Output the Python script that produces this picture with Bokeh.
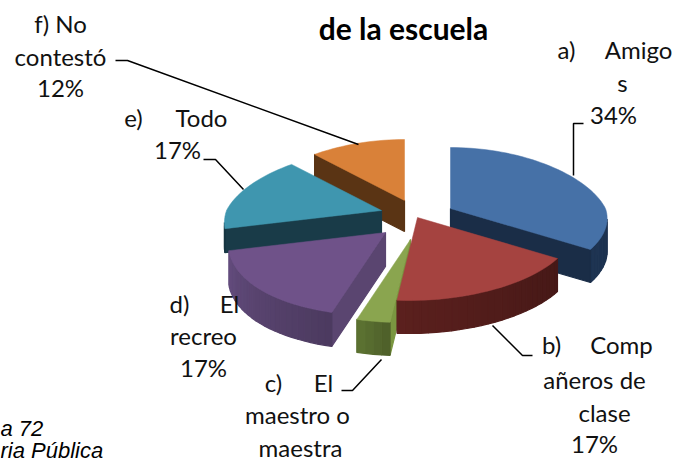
from math import sin, cos, radians
from bokeh.plotting import figure
from bokeh.embed import file_html
from bokeh.resources import INLINE
from bokeh.models import Range1d
from bokeh.core.properties import value

# --- data ---------------------------------------------------------------
categories = ["a) Amigos", "b) Compañeros de clase", "c) El maestro o maestra",
              "d) El recreo", "e) Todo", "f) No contestó"]
percent = [34, 17, 3, 17, 17, 12]
top_colors = ["#4671A7", "#A54340", "#8AA54F", "#6F5289", "#3F96AF", "#D98139"]
side_colors = ["#1A2D47", "#4F1C1A", "#55692E", "#56426C", "#193B48", "#5A3414"]
face_colors = ["#1A2D47", "#4F1C1A", "#7A9640", "#5A4570", "#193B48", "#5A3414"]
draw_order = [0, 5, 4, 3, 2, 1]

W, H = 686, 462
# where each slice's tip ends up (explosion of the pie), in page pixels
tips = [(450, 208), (417, 217), (410, 239), (385, 232), (381, 210), (404, 200)]
depths = [33, 33, 33, 34, 24, 31]
RX, RY, K = 155, 70.3, 0.153


def project(tip, theta):
    u, v = sin(theta), -cos(theta)
    s = 1 / (1 - K * v)
    sx = s * (1 + 0.08 * v) if v < 0 else s
    skew = 9 * v * v if v > 0 else 0
    return tip[0] + RX * u * sx - skew, tip[1] + RY * v * s


def shade(hex_color, f):
    r, g, b = (int(hex_color[i:i + 2], 16) for i in (1, 3, 5))
    return "#%02x%02x%02x" % tuple(min(255, int(c * f)) for c in (r, g, b))


p = figure(width=W, height=H, output_backend="svg", toolbar_location=None,
           x_range=Range1d(0, W), y_range=Range1d(H, 0), min_border=0,
           x_axis_type=None, y_axis_type=None)
p.grid.visible = False
p.outline_line_color = None
p.background_fill_color = "white"
p.border_fill_color = "white"
p.styles = {"position": "absolute", "left": "0px", "top": "0px"}

starts = []
acc = 0
for v in percent:
    starts.append(acc)
    acc += v

for i in draw_order:
    tip = tips[i]
    a0 = radians(starts[i] * 3.6)
    a1 = radians((starts[i] + percent[i]) * 3.6)
    n = max(3, int(percent[i] * 1.5))
    rim = [project(tip, a0 + (a1 - a0) * k / n) for k in range(n + 1)]
    poly = [tip] + rim
    sides = list(zip(poly, poly[1:] + poly[:1]))
    m = len(sides)
    for j, (a, b) in enumerate(sides):
        if b[0] - a[0] >= 0:
            continue
        is_face = j == 0 or j == m - 1
        col = face_colors[i] if is_face else shade(side_colors[i], 0.88 + 0.3 * (j / m))
        d = depths[i]
        p.patch([a[0], b[0], b[0], a[0]], [a[1], b[1], b[1] + d, a[1] + d],
                fill_color=col, line_color=col, line_width=1.2)
    p.patch([q[0] for q in poly], [q[1] for q in poly],
            fill_color=top_colors[i], line_color=top_colors[i], line_width=0.5)

# --- leader lines ---------------------------------------------------------
leaders = [
    ([583, 573, 573], [123, 123, 175]),
    ([532, 522, 492], [355, 355, 325]),
    ([341, 352, 381], [390, 390, 359]),
    ([203, 215, 243], [159, 159, 189]),
    ([115, 127, 358], [60, 60, 144]),
]
for xs, ys in leaders:
    p.line(xs, ys, line_color="black", line_width=1.5)

# --- labels -----------------------------------------------------------------
FONT = "Lato"
labels = [
    (60, 23, "f) No"), (60, 56, "contestó"), (60, 87, "12%"),
    (133, 117, "e)"), (201, 117, "Todo"), (177, 149, "17%"),
    (566, 49, "a)"), (638, 49, "Amigo"), (622, 82, "s"), (613, 114, "34%"),
    (179, 303, "d)"), (229, 303, "El"), (203, 335, "recreo"), (203, 367, "17%"),
    (273, 382, "c)"), (323, 382, "El"), (297, 414, "maestro o"), (300, 447, "maestra"),
    (551, 344, "b)"), (621, 344, "Comp"), (594, 379, "añeros de"), (604, 412, "clase"), (594, 443, "17%"),
]
p.text([l[0] for l in labels], [l[1] for l in labels], text=[l[2] for l in labels],
       text_font=value(FONT), text_font_size="24px", text_color="#111111",
       text_align="center", text_baseline="middle")
p.text([403], [27], text=["de la escuela"], text_font=value(FONT), text_font_style="bold",
       text_font_size="30px", text_color="black", text_align="center", text_baseline="middle")
p.text([0, 0], [428, 450], text=["a 72", "ria Pública"], text_font=value("Liberation Sans"),
       text_font_style="italic", text_font_size="22px", text_color="black",
       text_align="left", text_baseline="middle")

open("out.html", "w").write(file_html(p, INLINE))
